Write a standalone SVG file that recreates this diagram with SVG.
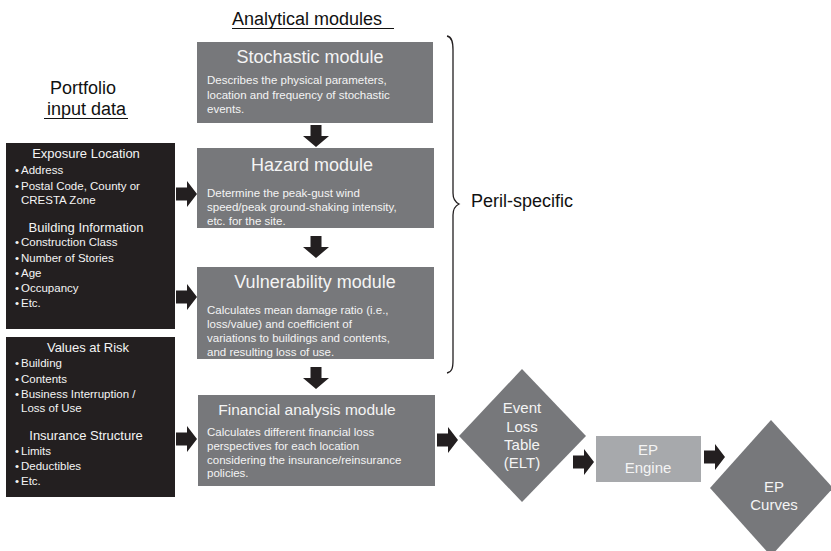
<svg xmlns="http://www.w3.org/2000/svg" width="831" height="551" viewBox="0 0 831 551">
<style>
text{font-family:"Liberation Sans",Arial,sans-serif}
.mod{fill:#77787b}
.inp{fill:#231f20}
.lbl{fill:#111;font-size:18px}
.ttl{fill:#f4f4f4;font-size:18px;text-anchor:middle}
.body{fill:#f4f4f4;font-size:11.5px}
.it{fill:#f4f4f4;font-size:11.5px}
.ih{fill:#f4f4f4;font-size:13px;text-anchor:middle}
.dt{fill:#f4f4f4;font-size:15px;text-anchor:middle}
.arr{fill:#231f20}
</style>
<defs>
<path id="ar" d="M0,-6.5 H11 V-13 L21,0 L11,13 V6.5 H0 Z"/>
<path id="ad" d="M-5.5,0 H5.5 V11 H13 L0,22 L-13,11 H-5.5 Z"/>
</defs>
<g id="labels">
<text class="lbl" x="232" y="25">Analytical modules</text>
<line x1="232" y1="28.5" x2="394" y2="28.5" stroke="#111" stroke-width="1.2"/>
<text class="lbl" x="83" y="94" text-anchor="middle">Portfolio</text>
<text class="lbl" x="47" y="115">input data</text>
<line x1="44" y1="118.5" x2="128" y2="118.5" stroke="#111" stroke-width="1.2"/>
<text class="lbl" x="471" y="207">Peril-specific</text>
<path d="M447,36 C452,37 453,42 453,50 L453,193 C453,199 455,202 459,204 C455,206 453,209 453,215 L453,360 C453,368 452,372 447,373" fill="none" stroke="#231f20" stroke-width="1.3"/>
</g>
<g id="exposure-input">
<rect class="inp" x="6" y="143" width="169" height="186"/>
<text class="ih" x="86" y="158">Exposure Location</text>
<text class="it" x="15" y="174">•<tspan x="21">Address</tspan></text>
<text class="it" x="15" y="190">•<tspan x="21">Postal Code, County or</tspan></text>
<text class="it" x="21" y="204">CRESTA Zone</text>
<text class="ih" x="86" y="232">Building Information</text>
<text class="it" x="15" y="246">•<tspan x="21">Construction Class</tspan></text>
<text class="it" x="15" y="262">•<tspan x="21">Number of Stories</tspan></text>
<text class="it" x="15" y="277">•<tspan x="21">Age</tspan></text>
<text class="it" x="15" y="292">•<tspan x="21">Occupancy</tspan></text>
<text class="it" x="15" y="307">•<tspan x="21">Etc.</tspan></text>
</g>
<g id="values-input">
<rect class="inp" x="6" y="337" width="169" height="160"/>
<text class="ih" x="88" y="352">Values at Risk</text>
<text class="it" x="15" y="367">•<tspan x="21">Building</tspan></text>
<text class="it" x="15" y="383">•<tspan x="21">Contents</tspan></text>
<text class="it" x="15" y="398">•<tspan x="21">Business Interruption /</tspan></text>
<text class="it" x="21" y="412">Loss of Use</text>
<text class="ih" x="86" y="440">Insurance Structure</text>
<text class="it" x="15" y="455">•<tspan x="21">Limits</tspan></text>
<text class="it" x="15" y="470">•<tspan x="21">Deductibles</tspan></text>
<text class="it" x="15" y="485">•<tspan x="21">Etc.</tspan></text>
</g>
<g id="stochastic">
<rect class="mod" x="197" y="42" width="236" height="81"/>
<text class="ttl" x="310" y="63">Stochastic module</text>
<text class="body" x="207" y="84">Describes  the physical parameters,</text>
<text class="body" x="207" y="98.5">location and frequency of stochastic</text>
<text class="body" x="207" y="113">events.</text>
</g>
<g id="hazard">
<rect class="mod" x="197" y="148" width="237" height="80"/>
<text class="ttl" x="312" y="171">Hazard module</text>
<text class="body" x="207" y="197">Determine the peak-gust wind</text>
<text class="body" x="207" y="211">speed/peak ground-shaking intensity,</text>
<text class="body" x="207" y="225">etc. for the site.</text>
</g>
<g id="vulnerability">
<rect class="mod" x="197" y="267" width="237" height="92"/>
<text class="ttl" x="315" y="288">Vulnerability module</text>
<text class="body" x="207" y="314">Calculates mean damage ratio (i.e.,</text>
<text class="body" x="207" y="328">loss/value) and coefficient of</text>
<text class="body" x="207" y="342">variations to buildings and contents,</text>
<text class="body" x="207" y="356">and resulting loss of use.</text>
</g>
<g id="financial">
<rect class="mod" x="198" y="395" width="237" height="91"/>
<text class="ttl" x="307" y="415" style="font-size:15.5px">Financial analysis module</text>
<text class="body" x="207" y="436">Calculates different financial loss</text>
<text class="body" x="207" y="450">perspectives for each location</text>
<text class="body" x="207" y="464">considering the insurance/reinsurance</text>
<text class="body" x="207" y="477">policies.</text>
</g>
<g id="elt">
<polygon class="mod" points="522,369 586,436 522,502 459,436"/>
<text class="dt" x="522" y="413">Event</text>
<text class="dt" x="522" y="432">Loss</text>
<text class="dt" x="522" y="450">Table</text>
<text class="dt" x="522" y="468">(ELT)</text>
</g>
<g id="ep-engine">
<rect x="596" y="436" width="105" height="46" fill="#a7a9ac"/>
<text class="dt" x="648" y="455">EP</text>
<text class="dt" x="648" y="473">Engine</text>
</g>
<g id="ep-curves">
<polygon class="mod" points="771,420 833,488 771,556 710,488"/>
<text class="dt" x="774" y="492">EP</text>
<text class="dt" x="774" y="510">Curves</text>
</g>
<g id="connectors" class="arr">
<use href="#ad" x="316" y="125"/>
<use href="#ad" x="316" y="236"/>
<use href="#ad" x="316" y="367"/>
<use href="#ar" x="176" y="194"/>
<use href="#ar" x="176" y="297"/>
<use href="#ar" x="176" y="439"/>
<use href="#ar" x="437" y="440"/>
<use href="#ar" x="573" y="462"/>
<use href="#ar" x="704" y="457"/>
</g>
</svg>
